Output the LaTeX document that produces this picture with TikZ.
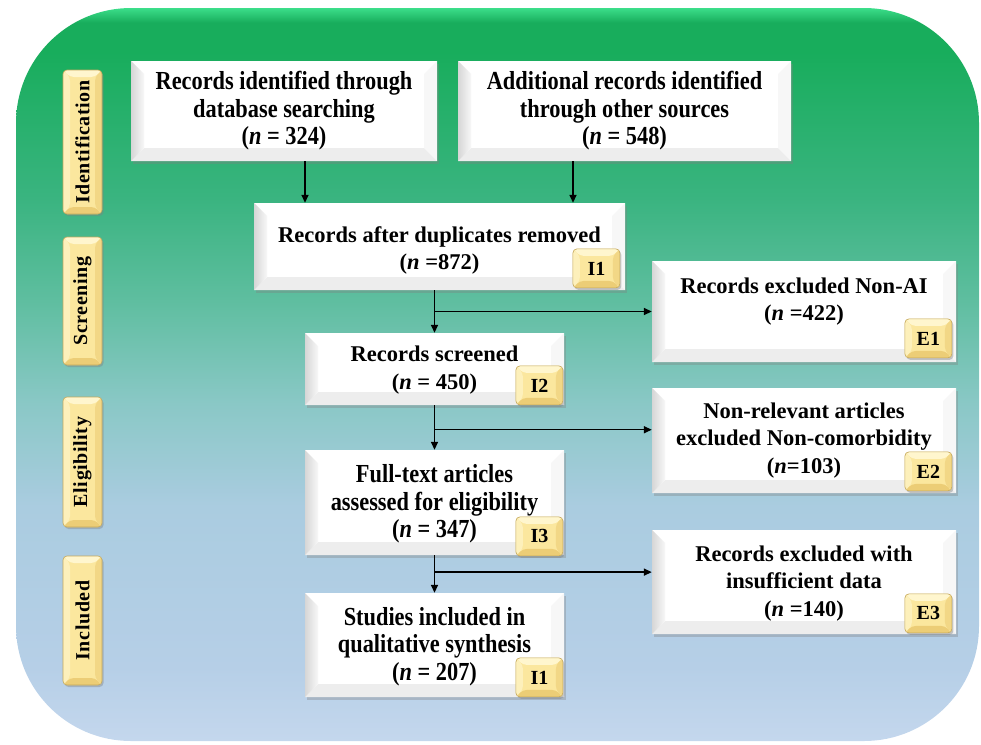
\documentclass[tikz,border=0pt]{standalone}
\usepackage{graphicx}
\usepackage{fontspec}
\setmainfont{Liberation Serif}
\newfontfamily\sidefont[LetterSpace=3]{Liberation Serif}
\newfontfamily\condfont[FakeStretch=0.86]{Liberation Serif}
\usetikzlibrary{arrows.meta,shadows,calc}

% background gradient colours (bottom to top)
\definecolor{bgA}{RGB}{196,215,237}
\definecolor{bgB}{RGB}{182,207,231}
\definecolor{bgC}{RGB}{170,204,224}
\definecolor{bgD}{RGB}{138,200,198}
\definecolor{bgE}{RGB}{95,190,160}
\definecolor{bgF}{RGB}{58,180,128}
\definecolor{bgG}{RGB}{24,173,92}
\definecolor{bgH}{RGB}{60,222,138}
% tag colours
\definecolor{tagfill}{RGB}{251,231,158}
\definecolor{taglite}{RGB}{255,246,206}
\definecolor{tagdark}{RGB}{236,205,118}
\definecolor{tagedge}{RGB}{196,168,92}

\pgfdeclareverticalshading{bgshade}{100bp}{color(0bp)=(bgA); color(25bp)=(bgA); color(30bp)=(bgB); color(41bp)=(bgC); color(48bp)=(bgD); color(55bp)=(bgE); color(62bp)=(bgF); color(72bp)=(bgG); color(74bp)=(bgG); color(75bp)=(bgH); color(100bp)=(bgH)}

\tikzset{
  boxtxt/.style={align=center, inner sep=0pt, font=\fontsize{22.5}{27.5}\selectfont\bfseries},
  tallboxtxt/.style={boxtxt, font=\fontsize{26}{27.5}\condfont\bfseries},
  panel/.style={fill=white, inner sep=0pt,
    drop shadow={shadow xshift=2pt, shadow yshift=-2.5pt, opacity=0.35},
    path picture={
      \fill[gray!14] (path picture bounding box.south west)
        -- ([shift={(13pt,13pt)}]path picture bounding box.south west)
        -- ([shift={(-13pt,13pt)}]path picture bounding box.south east)
        -- (path picture bounding box.south east) -- cycle;
      \fill[gray!6] (path picture bounding box.south east)
        -- ([shift={(-13pt,13pt)}]path picture bounding box.south east)
        -- ([shift={(-13pt,-13pt)}]path picture bounding box.north east)
        -- (path picture bounding box.north east) -- cycle;
      \shade[left color=gray!32, right color=gray!6] (path picture bounding box.south west)
        -- (path picture bounding box.north west)
        -- ([shift={(13pt,-13pt)}]path picture bounding box.north west)
        -- ([shift={(13pt,13pt)}]path picture bounding box.south west) -- cycle;
    }},
  tagbox/.style={fill=tagfill, draw=tagedge, line width=0.6pt, rounded corners=4pt, inner sep=0pt,
    drop shadow={shadow xshift=1.5pt, shadow yshift=-2pt, opacity=0.4},
    path picture={
      \fill[taglite] (path picture bounding box.north west)
        -- (path picture bounding box.north east)
        -- ([shift={(-7pt,-7pt)}]path picture bounding box.north east)
        -- ([shift={(7pt,-7pt)}]path picture bounding box.north west) -- cycle;
      \fill[taglite!60!tagfill] (path picture bounding box.north west)
        -- (path picture bounding box.south west)
        -- ([shift={(7pt,7pt)}]path picture bounding box.south west)
        -- ([shift={(7pt,-7pt)}]path picture bounding box.north west) -- cycle;
      \fill[tagdark] (path picture bounding box.south west)
        -- (path picture bounding box.south east)
        -- ([shift={(-7pt,7pt)}]path picture bounding box.south east)
        -- ([shift={(7pt,7pt)}]path picture bounding box.south west) -- cycle;
      \fill[tagdark!60!tagfill] (path picture bounding box.south east)
        -- (path picture bounding box.north east)
        -- ([shift={(-7pt,-7pt)}]path picture bounding box.north east)
        -- ([shift={(-7pt,7pt)}]path picture bounding box.south east) -- cycle;
    }},
  badge/.style={tagbox, minimum width=47pt, minimum height=39pt, anchor=south east,
    font=\fontsize{20}{24}\selectfont\bfseries},
  stage/.style={tagbox, minimum width=39pt, font=\fontsize{20}{24}\sidefont\bfseries},
  arr/.style={-{Triangle[length=8pt,width=7pt]}, line width=1.5pt},
}

\begin{document}
\begin{tikzpicture}[x=1pt,y=-1pt]
\useasboundingbox (0,0) rectangle (981,744);

% rounded backdrop
\path[shading=bgshade, rounded corners=115pt] (16,8) rectangle (979,741);

% stage labels
\node[stage, minimum height=144pt] (s1) at (82.5,142) {\rotatebox{90}{Identification}};
\node[stage, minimum height=128pt] (s2) at (82.5,301) {\rotatebox{90}{Screening}};
\node[stage, minimum height=130pt] (s3) at (82.5,462) {\rotatebox{90}{Eligibility}};
\node[stage, minimum height=129pt] (s4) at (82.5,620.5) {\rotatebox{90}{Included}};

% flow boxes
\node[panel, minimum width=306pt, minimum height=100pt] (b1) at (284,111) {};
\node[panel, minimum width=333pt, minimum height=100pt] (b2) at (624.5,111) {};
\node[panel, minimum width=371pt, minimum height=87pt] (b3) at (439.5,246.5) {};
\node[panel, minimum width=304pt, minimum height=101pt] (e1) at (804,311.5) {};
\node[panel, minimum width=259pt, minimum height=72pt] (b4) at (434.5,369) {};
\node[panel, minimum width=304pt, minimum height=105pt] (e2) at (804,440.5) {};
\node[panel, minimum width=259pt, minimum height=105pt] (b5) at (434.5,502.5) {};
\node[panel, minimum width=304pt, minimum height=104pt] (e3) at (804,582) {};
\node[panel, minimum width=259pt, minimum height=104pt] (b6) at (434.5,645) {};

% box texts
\node[tallboxtxt] (b1t) at (b1) {Records identified through\\database searching\\(\textit{n} = 324)};
\node[tallboxtxt] (b2t) at (b2) {Additional records identified\\through other sources\\(\textit{n} = 548)};
\node[boxtxt] (b3t) at ([yshift=-4pt]b3.center) {Records after duplicates removed\\(\textit{n} =872)};
\node[boxtxt] (e1t) at ([yshift=10pt]e1.center) {Records excluded Non-AI\\(\textit{n} =422)};
\node[boxtxt] (b4t) at ([yshift=-1pt]b4.center) {Records screened\\(\textit{n} = 450)};
\node[boxtxt] (e2t) at (e2) {Non-relevant articles\\excluded Non-comorbidity\\(\textit{n}=103)};
\node[tallboxtxt] (b5t) at ([yshift=-1.5pt]b5.center) {Full-text articles\\assessed for eligibility\\(\textit{n} = 347)};
\node[boxtxt] (e3t) at ([yshift=-1.5pt]e3.center) {Records excluded with\\insufficient data\\(\textit{n} =140)};
\node[tallboxtxt] (b6t) at ([yshift=-1.5pt]b6.center) {Studies included in\\qualitative synthesis\\(\textit{n} = 207)};

% corner tags
\node[badge] (k1) at ([shift={(-5pt,2pt)}]b3.south east) {I1};
\node[badge] (k2) at ([shift={(-4pt,4pt)}]e1.south east) {E1};
\node[badge] (k3) at ([shift={(-1pt,0pt)}]b4.south east) {I2};
\node[badge] (k4) at ([shift={(-4pt,2pt)}]e2.south east) {E2};
\node[badge] (k5) at ([shift={(-1pt,-1pt)}]b5.south east) {I3};
\node[badge] (k6) at ([shift={(-4pt,1pt)}]e3.south east) {E3};
\node[badge] (k7) at ([shift={(-1pt,0pt)}]b6.south east) {I1};

% connectors
\draw[arr] ([xshift=21pt]b1.south) -- ([xshift=21pt]b1.south |- b3.north);
\draw[arr] ([xshift=-51.5pt]b2.south) -- ([xshift=-51.5pt]b2.south |- b3.north);

\draw[arr] (b3.south -| b4.north) -- (b4.north);
\coordinate (j1) at ($(b3.south -| b4.north)!.5!(b4.north)$);
\draw[arr] (j1) -- (j1 -| e1.west);

\draw[arr] (b4.south) -- (b5.north);
\coordinate (j2) at ($(b4.south)!.55!(b5.north)$);
\draw[arr] (j2) -- (j2 -| e2.west);

\draw[arr] (b5.south) -- (b6.north);
\coordinate (j3) at ($(b5.south)!.45!(b6.north)$);
\draw[arr] (j3) -- (j3 -| e3.west);
\end{tikzpicture}
\end{document}
